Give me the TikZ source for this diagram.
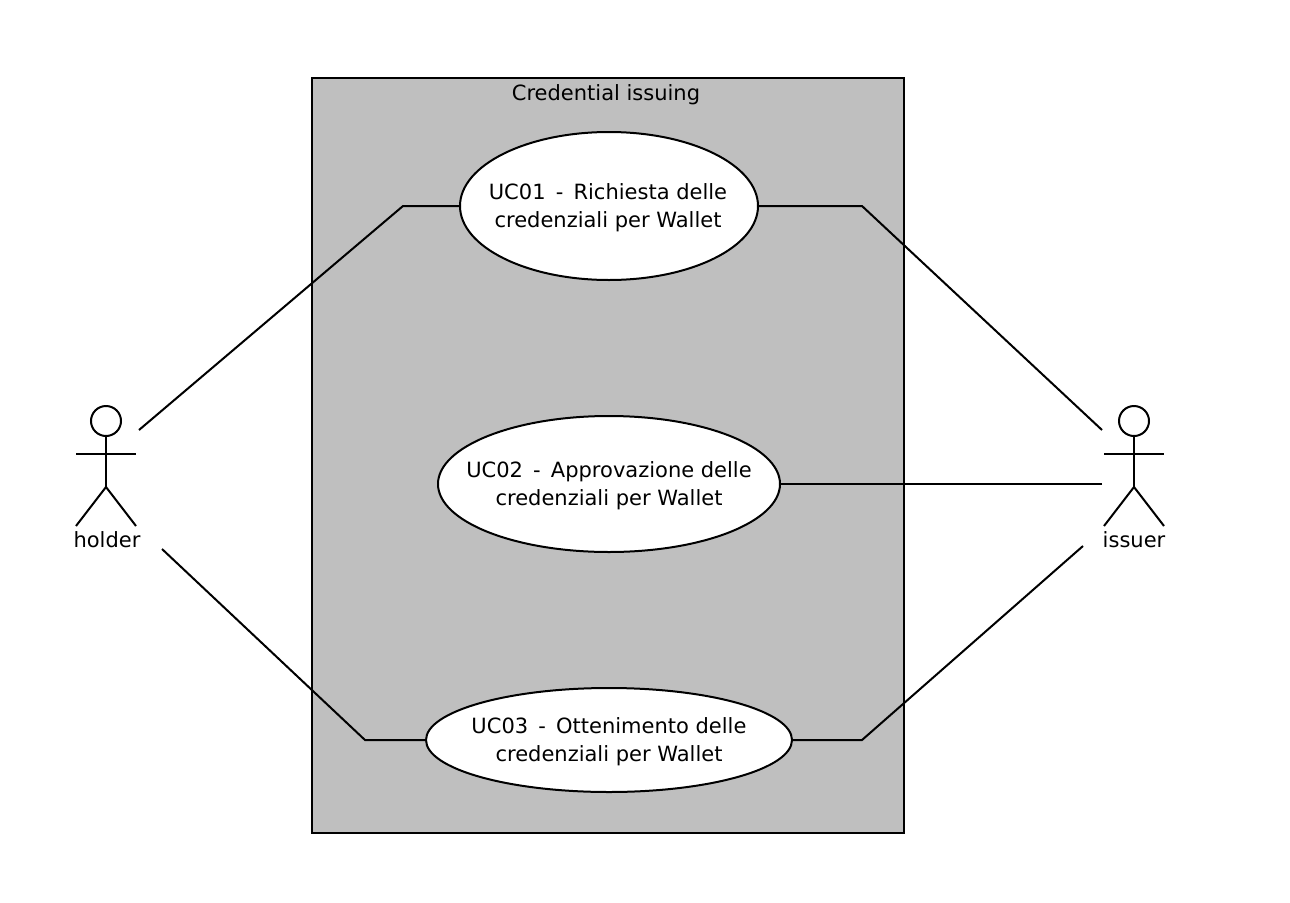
\documentclass[tikz,border=0pt]{standalone}
\usepackage{fontspec}
\setmainfont{DejaVu Sans}
\usetikzlibrary{shapes.geometric}

\begin{document}
\begin{tikzpicture}[
    x=1pt, y=-1pt,
    line width=2pt,
    font=\fontsize{21}{28}\selectfont,
    usecase/.style={draw, ellipse, fill=white, inner sep=0pt},
    usecasetext/.style={align=center, inner sep=0pt, yshift=-2pt},
    systembox/.style={draw, fill=black!25, minimum width=592pt, minimum height=755pt, inner sep=0pt},
    actorhead/.style={draw, circle, minimum size=30pt, inner sep=0pt},
    actorlabel/.style={inner sep=0pt, anchor=base},
    link/.style={line join=miter},
]
\useasboundingbox (0,0) rectangle (1290,902);

\node[systembox] (system) at (608,455.5) {};
\node[anchor=base, inner sep=0pt] (systemtitle) at (606,100) {Credential issuing};

% use cases
\node[usecase, minimum width=298pt, minimum height=148pt] (uc01) at (609,206) {};
\node[usecase, minimum width=342pt, minimum height=136pt] (uc02) at (609,484) {};
\node[usecase, minimum width=366pt, minimum height=104pt] (uc03) at (609,740) {};

\node[usecasetext, xshift=-1pt] (uc01text) at (uc01) {UC01\, - \,Richiesta delle\\credenziali per Wallet};
\node[usecasetext] (uc02text) at (uc02) {UC02\, - \,Approvazione delle\\credenziali per Wallet};
\node[usecasetext] (uc03text) at (uc03) {UC03\, - \,Ottenimento delle\\credenziali per Wallet};

% actors
\foreach \name/\cx in {holder/106, issuer/1134} {
    \node[actorhead] (\name head) at (\cx,421) {};
    \coordinate (\name hip) at (\cx,487);
    \coordinate (\name armL) at (\cx-30,454);
    \coordinate (\name armR) at (\cx+30,454);
    \coordinate (\name footL) at (\cx-30,526);
    \coordinate (\name footR) at (\cx+30,526);
    \draw (\name head.south) -- (\name hip);
    \draw (\name armL) -- (\name armR);
    \draw (\name footL) -- (\name hip) -- (\name footR);
}
\node[actorlabel] (holderlabel) at (107,547) {holder};
\node[actorlabel] (issuerlabel) at (1134,547) {issuer};

% connectors
\coordinate (holderA) at (139,430);
\coordinate (holderB) at (162,549);
\coordinate (issuerA) at (1102,430);
\coordinate (issuerB) at (1102,484);
\coordinate (issuerC) at (1083,546);

\draw[link] (holderA) -- (403,206) -- (uc01.west);
\draw[link] (holderB) -- (365,740) -- (uc03.west);
\draw[link] (issuerA) -- (862,206) -- (uc01.east);
\draw[link] (issuerB) -- (uc02.east);
\draw[link] (issuerC) -- (862,740) -- (uc03.east);

\end{tikzpicture}
\end{document}
